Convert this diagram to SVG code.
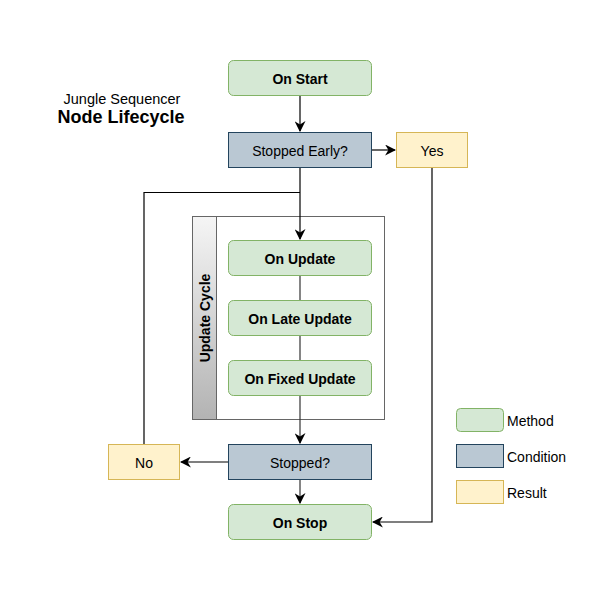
<svg xmlns="http://www.w3.org/2000/svg" width="600" height="600" viewBox="0 0 600 600">
<defs>
<linearGradient id="hdr" x1="0" y1="0" x2="0" y2="1">
<stop offset="0" stop-color="#f5f5f5"/>
<stop offset="1" stop-color="#b3b3b3"/>
</linearGradient>
<marker id="arr" viewBox="0 0 10 10" refX="9" refY="5" markerWidth="11" markerHeight="11" markerUnits="userSpaceOnUse" orient="auto">
<path d="M0,0 L10,5 L0,10 L3,5 Z" fill="#000"/>
</marker>
</defs>
<style>
text{font-family:"Liberation Sans",Arial,sans-serif;fill:#000}
.lbl{font-size:14px;text-anchor:middle;dominant-baseline:central}
.b{font-weight:bold}
.m{fill:#d5e8d4;stroke:#82b366;stroke-width:1}
.c{fill:#bac8d3;stroke:#23445d;stroke-width:1}
.r{fill:#fff2cc;stroke:#d6b656;stroke-width:1}
.e{fill:none;stroke:#000;stroke-width:1.2}
.g{fill:none;stroke:#333;stroke-width:1.2}
.leg{font-size:14px;dominant-baseline:central}
</style>
<rect width="600" height="600" fill="#fff"/>
<g id="title">
<text x="122" y="98.5" font-size="14.5" text-anchor="middle" dominant-baseline="central">Jungle Sequencer</text>
<text x="121" y="116.5" font-size="18" font-weight="bold" text-anchor="middle" dominant-baseline="central">Node Lifecycle</text>
</g>
<g id="update-cycle">
<rect x="192.5" y="216.5" width="192" height="203" fill="#fff" stroke="#666"/>
<rect x="192.5" y="216.5" width="24" height="203" fill="url(#hdr)" stroke="#666"/>
<text transform="translate(205,318) rotate(-90)" class="lbl b">Update Cycle</text>
</g>
<g id="connectors">
<path class="e" d="M300,96 V131" marker-end="url(#arr)"/>
<path class="e" d="M372,150 H395" marker-end="url(#arr)"/>
<path class="e" d="M300,168 V239" marker-end="url(#arr)"/>
<path class="e" d="M144,444 V192.5 H300" />
<path class="g" d="M300,276 V443" marker-end="url(#arr)"/>
<path class="e" d="M432,168 V522 H373" marker-end="url(#arr)"/>
<path class="e" d="M228,462 H181" marker-end="url(#arr)"/>
<path class="g" d="M300,480 V503" marker-end="url(#arr)"/>
</g>
<g id="on-start"><rect class="m" x="228.5" y="60.5" width="143" height="35" rx="5"/><text class="lbl b" x="300" y="79">On Start</text></g>
<g id="stopped-early"><rect class="c" x="228.5" y="132.5" width="143" height="35"/><text class="lbl" x="300" y="151">Stopped Early?</text></g>
<g id="yes"><rect class="r" x="396.5" y="132.5" width="71" height="35"/><text class="lbl" x="432" y="151">Yes</text></g>
<g id="on-update"><rect class="m" x="228.5" y="240.5" width="143" height="35" rx="5"/><text class="lbl b" x="300" y="259">On Update</text></g>
<g id="on-late-update"><rect class="m" x="228.5" y="300.5" width="143" height="35" rx="5"/><text class="lbl b" x="300" y="319">On Late Update</text></g>
<g id="on-fixed-update"><rect class="m" x="228.5" y="360.5" width="143" height="35" rx="5"/><text class="lbl b" x="300" y="379">On Fixed Update</text></g>
<g id="stopped"><rect class="c" x="228.5" y="444.5" width="143" height="35"/><text class="lbl" x="300" y="463">Stopped?</text></g>
<g id="no"><rect class="r" x="108.5" y="444.5" width="71" height="35"/><text class="lbl" x="144" y="463">No</text></g>
<g id="on-stop"><rect class="m" x="228.5" y="504.5" width="143" height="35" rx="5"/><text class="lbl b" x="300" y="523">On Stop</text></g>
<g id="legend">
<rect class="m" x="456.5" y="408.5" width="47" height="23" rx="4"/><text class="leg" x="507" y="421">Method</text>
<rect class="c" x="456.5" y="444.5" width="47" height="23"/><text class="leg" x="507" y="457">Condition</text>
<rect class="r" x="456.5" y="480.5" width="47" height="23"/><text class="leg" x="507" y="493">Result</text>
</g>
</svg>
